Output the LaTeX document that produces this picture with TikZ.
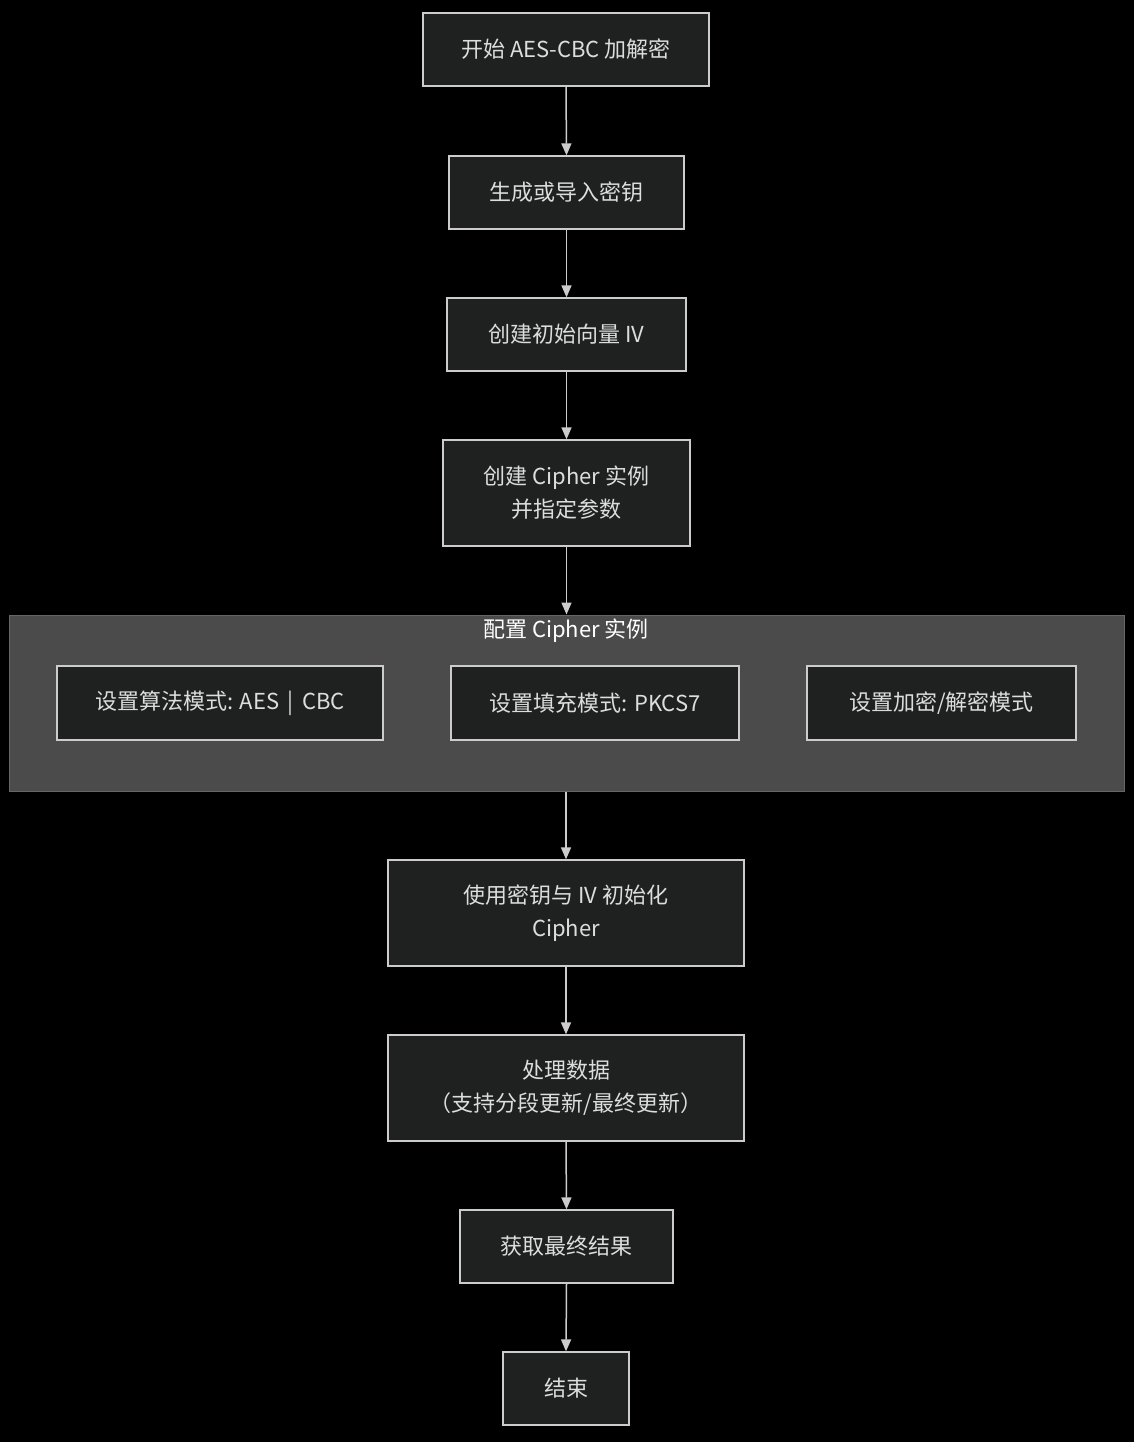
\documentclass[tikz,border=0pt]{standalone}
\usepackage{fontspec}
\setmainfont{Noto Sans CJK SC}
\usetikzlibrary{arrows.meta}
\definecolor{bg}{HTML}{000000}
\definecolor{nodefill}{HTML}{1F2020}
\definecolor{nodeline}{HTML}{CCCCCC}
\definecolor{txt}{HTML}{DDDDDD}
\definecolor{clusterfill}{HTML}{4A4B4A}
\definecolor{clusterline}{HTML}{666666}
\tikzset{
  box/.style={draw=nodeline, fill=nodefill, line width=1.3pt, text=txt, inner sep=0pt,
    align=center, font=\fontsize{22}{33}\selectfont},
  link/.style={draw=nodeline, line width=1.5pt, -{Triangle[width=10pt,length=12pt]}},
}
\begin{document}
\begin{tikzpicture}[x=1pt,y=-1pt]
\fill[bg] (0,0) rectangle (1134,1442);
\useasboundingbox (0,0) rectangle (1134,1442);
% cluster
\node[draw=clusterline, fill=clusterfill, line width=1pt, minimum width=1115pt, minimum height=176pt, inner sep=0pt] (cluster) at (566.5,703) {};
\node[text=white, font=\fontsize{22}{26}\selectfont] (ctitle) at (566,631) {配置 Cipher 实例};
% nodes
\node[box, minimum width=286pt, minimum height=73pt] (start) at (566,49.5) {开始 AES-CBC 加解密};
\node[box, minimum width=235pt, minimum height=73pt] (key) at (566.5,192.5) {生成或导入密钥};
\node[box, minimum width=239pt, minimum height=73pt] (iv) at (566.5,334.5) {创建初始向量 IV};
\node[box, minimum width=247pt, minimum height=106pt] (cipher) at (566.5,493) {创建 Cipher 实例\\并指定参数};
\node[box, minimum width=326pt, minimum height=74pt] (c1) at (220,703) {设置算法模式: AES \,\textbar\, CBC};
\node[box, minimum width=288pt, minimum height=74pt] (c2) at (595,703) {设置填充模式: PKCS7};
\node[box, minimum width=269pt, minimum height=74pt] (c3) at (941.5,703) {设置加密/解密模式};
\node[box, minimum width=356pt, minimum height=106pt] (init) at (566,913) {使用密钥与 IV 初始化\\Cipher};
\node[box, minimum width=356pt, minimum height=106pt] (proc) at (566,1088) {处理数据\\（支持分段更新/最终更新）};
\node[box, minimum width=213pt, minimum height=73pt] (result) at (566.5,1246.5) {获取最终结果};
\node[box, minimum width=126pt, minimum height=73pt] (end) at (566,1388.5) {结束};
% links
\draw[link] (start.south) -- (key.north);
\draw[link] (key.south) -- (iv.north);
\draw[link] (iv.south) -- (cipher.north);
\draw[link] (cipher.south) -- (cipher.south |- cluster.north);
\draw[link] (cluster.south -| init.north) -- (init.north);
\draw[link] (init.south) -- (proc.north);
\draw[link] (proc.south) -- (result.north);
\draw[link] (result.south) -- (end.north);
\end{tikzpicture}
\end{document}
